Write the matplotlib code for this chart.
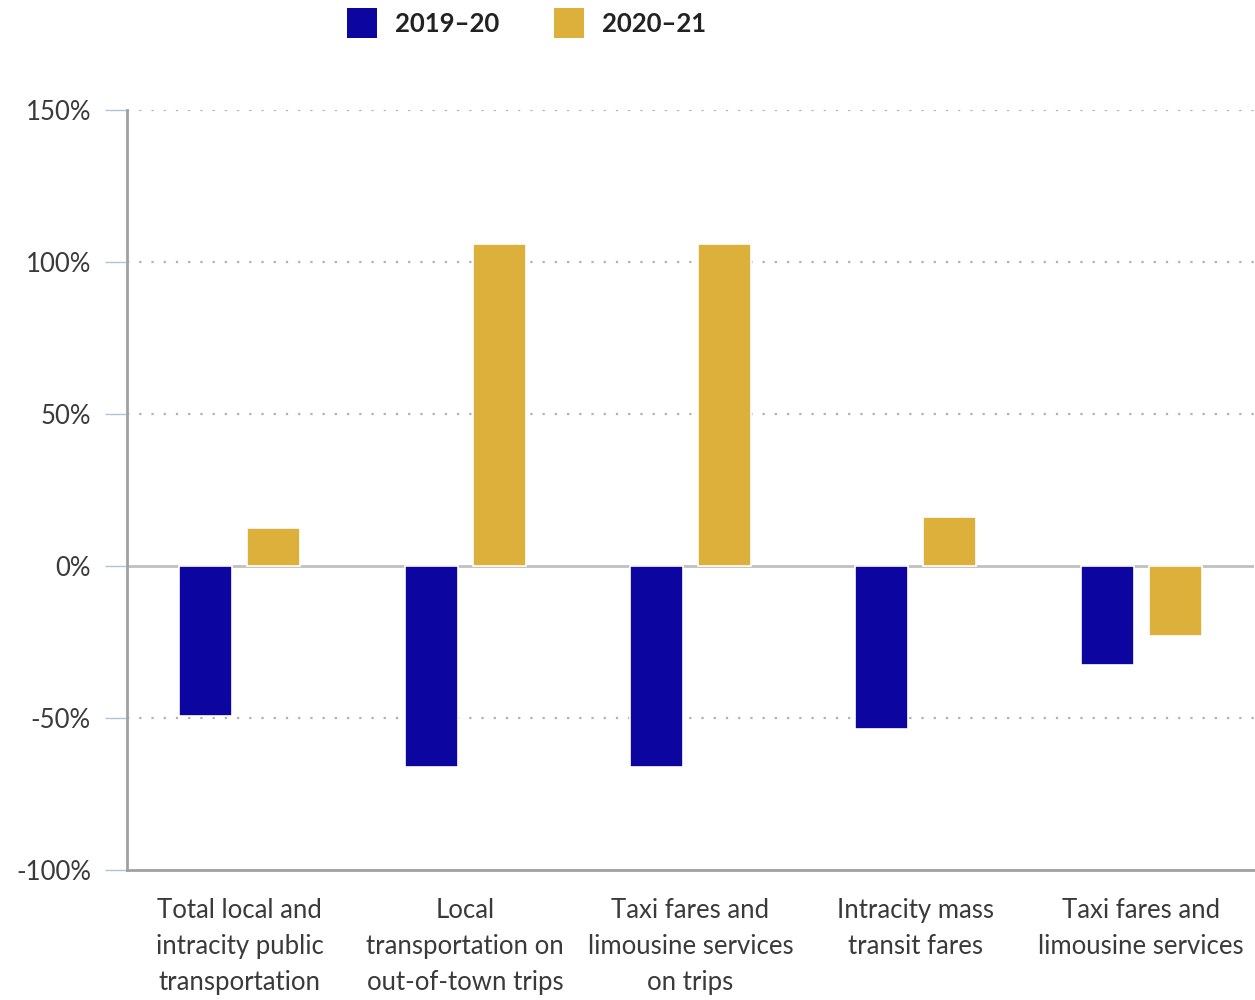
import matplotlib
matplotlib.use("Agg")
import matplotlib.pyplot as plt
import numpy as np
from matplotlib.patches import Patch

plt.rcParams['font.family'] = ['Lato', 'DejaVu Sans']

categories = ["Total local and\nintracity public\ntransportation",
              "Local\ntransportation on\nout-of-town trips",
              "Taxi fares and\nlimousine services\non trips",
              "Intracity mass\ntransit fares",
              "Taxi fares and\nlimousine services"]
series_names = ["2019\u201320", "2020\u201321"]
v2019 = [-49.5, -66, -66, -53.5, -32.5]
v2020 = [12.5, 106, 106, 16, -23]
yticks = [-100, -50, 0, 50, 100, 150]
colors = ["#0D05A0", "#DDB03C"]

fig = plt.figure(figsize=(12.55, 10), dpi=100)
ax = fig.add_axes([0.1012, 0.13, 0.898, 0.76])

x = np.arange(len(categories))
w = 0.235
off = 0.151
ax.bar(x - off, v2019, w, color=colors[0], edgecolor="white", linewidth=1.2, zorder=3)
ax.bar(x + off, v2020, w, color=colors[1], edgecolor="white", linewidth=1.2, zorder=3)

ax.set_xlim(-0.5, len(categories) - 0.5)
ax.set_ylim(-100, 150)
ax.set_yticks(yticks)
ax.set_yticklabels([f"{t}%" for t in yticks], fontsize=18.5, color="#3a3a3a")
for t in yticks:
    if t == 0:
        ax.axhline(0, color="#c0c0c0", lw=2, zorder=2)
    elif t != -100:
        ax.axhline(t, color="#b0b0b0", lw=1.6, ls=(0, (1, 4.5)), zorder=1)

ax.set_xticks(x)
ax.set_xticklabels(categories, fontsize=18.5, color="#3a3a3a", linespacing=1.55)
ax.tick_params(axis='x', length=0, pad=20)
ax.tick_params(axis='y', length=16, width=1, color="#aac4dc", pad=10)
for lbl in ax.get_yticklabels():
    lbl.set_verticalalignment("center_baseline")

for s in ["top", "right"]:
    ax.spines[s].set_visible(False)
ax.spines["left"].set_color("#a0a0a0")
ax.spines["left"].set_linewidth(2)
ax.spines["bottom"].set_color("#a0a0a0")
ax.spines["bottom"].set_linewidth(2)

handles = [Patch(facecolor=c, edgecolor="none") for c in colors]
leg = fig.legend(handles, series_names, loc="upper center", bbox_to_anchor=(0.4195, 1.015),
                 ncol=2, frameon=False, handlelength=1.15, handleheight=1.4,
                 columnspacing=2.15, handletextpad=0.7,
                 prop={"size": 18.5, "weight": "bold"})
for t in leg.get_texts():
    t.set_color("#222222")

fig.savefig("out.png", dpi=100, facecolor="white")
